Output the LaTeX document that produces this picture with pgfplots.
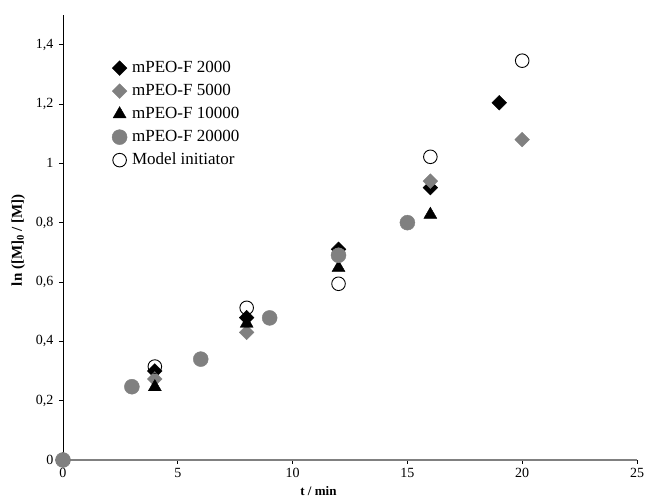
\documentclass[border=0pt]{standalone}
\usepackage{pgfplots}
\pgfplotsset{compat=1.18}
\usepackage{fontspec}
\setmainfont{Liberation Serif}
\definecolor{mgray}{HTML}{808080}
\newcommand{\lf}{\fontsize{17}{19}\selectfont}
\begin{document}
\begin{tikzpicture}
\useasboundingbox (-63pt,-43pt) rectangle (582pt,460pt);
\begin{axis}[
  at={(0,0)}, anchor=south west,
  scale only axis,
  width=574pt, height=445pt,
  xmin=0, xmax=25, ymin=0, ymax=1.5,
  axis x line=bottom, axis y line=left,
  axis line style={-},
  x axis line style={mgray, line width=1.3pt},
  y axis line style={black, line width=0.9pt},
  xtick={0,5,...,25}, ytick={0,0.2,...,1.4},
  tick align=outside, tick style={black, line width=0.6pt},
  major tick length=4pt,
  /pgf/number format/assume math mode=true,
  /pgf/number format/use comma,
  yticklabel style={/pgf/number format/fixed, /pgf/number format/precision=1, xshift=-2pt},
  xticklabel style={yshift=-1pt},
  tick label style={font=\fontsize{14}{16}\selectfont},
  xlabel={\textbf{t / min}}, ylabel={\textbf{ln ([M]\textsubscript{0} / [M])}},
  xlabel style={font=\fontsize{13}{15}\selectfont, at={(axis description cs:0.445,-0.07)}, anchor=center},
  ylabel style={font=\fontsize{15}{17}\selectfont, at={(axis description cs:-0.078,0.494)}, anchor=center},
  clip=false,
  legend style={draw=none, fill=none, at={(0.08,0.908)}, anchor=north west,
    row sep=3pt, nodes={inner sep=2pt, text height=12pt, text depth=4pt},
    /tikz/column 1/.style={column sep=3pt}},
  legend cell align=left,
]
\addplot[only marks, mark=square*, mark size=5.2pt, black, mark options={rotate=45}] coordinates {(0,0) (4,0.30) (8,0.48) (12,0.71) (16,0.918) (19,1.204)};
\addlegendentry{\lf mPEO-F 2000}
\addplot[only marks, mark=square*, mark size=5.2pt, mgray, mark options={rotate=45, draw=mgray, fill=mgray}] coordinates {(0,0) (4,0.273) (8,0.43) (12,0.69) (16,0.94) (20,1.08)};
\addlegendentry{\lf mPEO-F 5000}
\addplot[only marks, mark=triangle*, mark size=7.5pt, black] coordinates {(0,0) (4,0.246) (8,0.46) (12,0.648) (16,0.827)};
\addlegendentry{\lf mPEO-F 10000}
\addplot[only marks, mark=*, mark size=7.5pt, mgray, mark options={draw=mgray, fill=mgray}] coordinates {(0,0) (3,0.247) (6,0.34) (9,0.479) (12,0.69) (15,0.80)};
\addlegendentry{\lf mPEO-F 20000}
\addplot[only marks, mark=o, mark size=6.8pt, black, mark options={line width=0.9pt}] coordinates {(4,0.315) (8,0.513) (12,0.594) (16,1.022) (20,1.346)};
\addlegendentry{\lf Model initiator}
\end{axis}
\end{tikzpicture}
\end{document}
